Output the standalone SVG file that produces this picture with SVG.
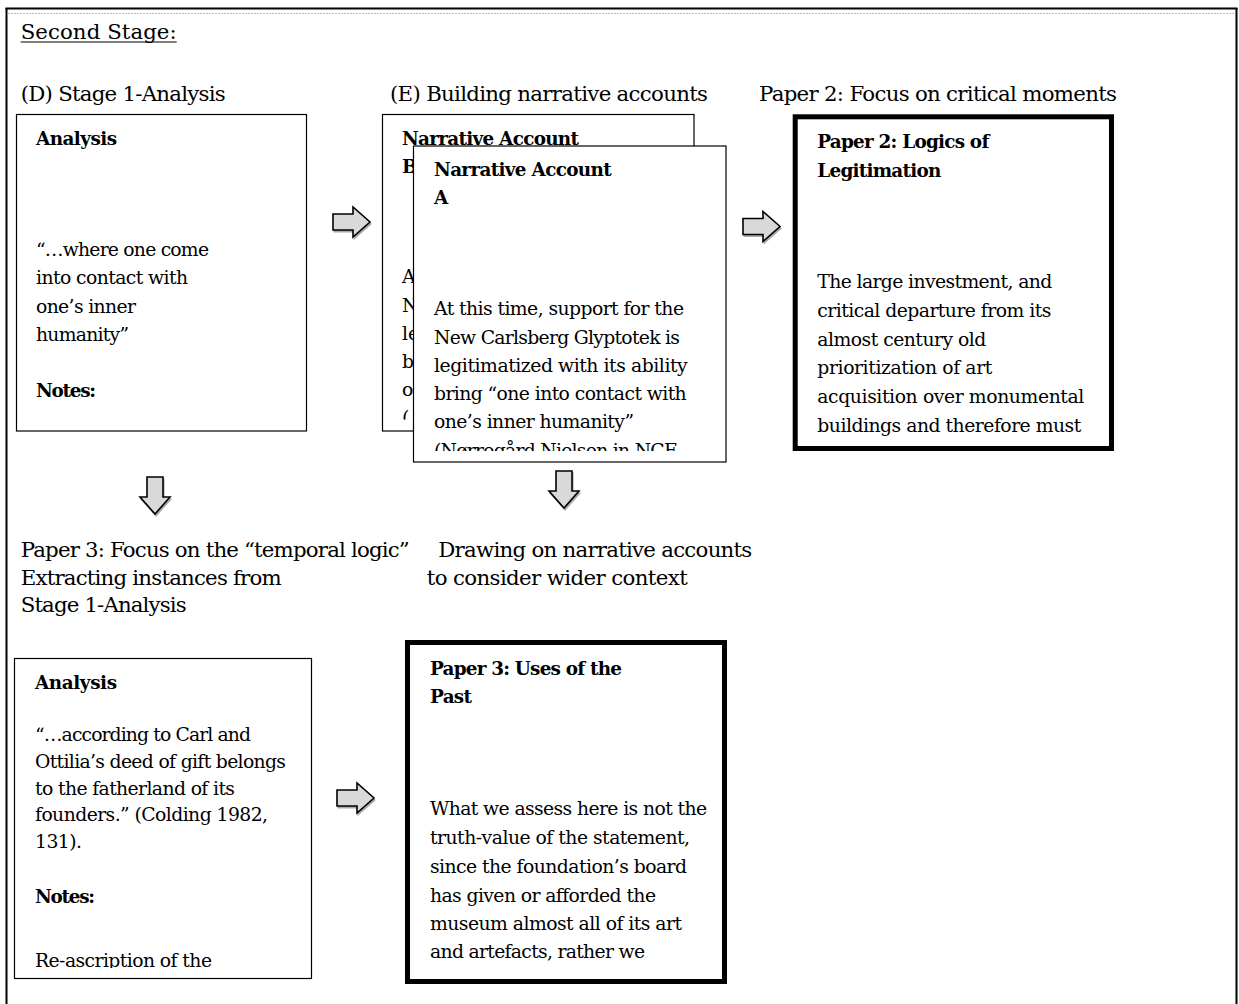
<svg xmlns="http://www.w3.org/2000/svg" xmlns:xlink="http://www.w3.org/1999/xlink" width="1239" height="1004" viewBox="0 0 1239 1004">
<style>
text{font-family:"DejaVu Serif","Liberation Serif",serif;fill:#000}
.h{font-size:21.3px}
.t{font-size:18.8px}
.bd{font-size:18.4px;font-weight:bold}
.thin{fill:#fff;stroke:#000;stroke-width:1.2}
.thick{fill:#fff;stroke:#000;stroke-width:5}
.arr{fill:#d9d9d9;stroke:#000;stroke-width:1.6;stroke-linejoin:miter}
.shd{fill:#aaa;stroke:#aaa;stroke-width:1.2}
</style>
<defs>
<path id="ra" d="M0,-8 H20 V-15 L37,0 L20,15 V8 H0 Z"/>
<clipPath id="clipB"><rect x="382" y="114" width="312" height="305.5"/></clipPath>
<clipPath id="clipA"><rect x="413" y="146" width="313" height="305"/></clipPath>
<clipPath id="clipBL"><rect x="14" y="658" width="298" height="310"/></clipPath>
</defs>
<rect x="0" y="0" width="1239" height="1004" fill="#fff"/>
<g id="frame">
<line x1="6.5" y1="8" x2="6.5" y2="1004" stroke="#000" stroke-width="2"/>
<line x1="1236.5" y1="8" x2="1236.5" y2="1004" stroke="#000" stroke-width="2"/>
<line x1="5.5" y1="8.5" x2="1237.5" y2="8.5" stroke="#000" stroke-width="2"/>
<line x1="8" y1="13.5" x2="1235" y2="13.5" stroke="#bbb" stroke-width="1" stroke-dasharray="2,1"/>
</g>
<g id="labels">
<text class="h" x="20.7" y="39" textLength="156" lengthAdjust="spacing">Second Stage:</text>
<line x1="20.7" y1="42" x2="176.7" y2="42" stroke="#000" stroke-width="1.2"/>
<text class="h" x="20.7" y="101" textLength="205" lengthAdjust="spacing">(D) Stage 1-Analysis</text>
<text class="h" x="390" y="101" textLength="318" lengthAdjust="spacing">(E) Building narrative accounts</text>
<text class="h" x="759" y="101" textLength="358" lengthAdjust="spacing">Paper 2: Focus on critical moments</text>
<text class="h" x="20.7" y="557" textLength="389" lengthAdjust="spacing">Paper 3: Focus on the “temporal logic”</text>
<text class="h" x="20.7" y="585" textLength="261" lengthAdjust="spacing">Extracting instances from</text>
<text class="h" x="20.7" y="612" textLength="166" lengthAdjust="spacing">Stage 1-Analysis</text>
<text class="h" x="438.3" y="557" textLength="314" lengthAdjust="spacing">Drawing on narrative accounts</text>
<text class="h" x="426.7" y="585" textLength="261" lengthAdjust="spacing">to consider wider context</text>
</g>
<g id="node-analysis-1">
<rect class="thin" x="16.5" y="114.5" width="290" height="316.5"/>
<text class="bd" x="36" y="145" textLength="81" lengthAdjust="spacing">Analysis</text>
<text class="t" x="36" y="255.5" textLength="173" lengthAdjust="spacing">“…where one come</text>
<text class="t" x="36" y="284" textLength="152" lengthAdjust="spacing">into contact with</text>
<text class="t" x="36" y="312.5" textLength="100" lengthAdjust="spacing">one’s inner</text>
<text class="t" x="36" y="341" textLength="93" lengthAdjust="spacing">humanity”</text>
<text class="bd" x="36" y="397" textLength="60" lengthAdjust="spacing">Notes:</text>
</g>
<g id="node-narrative-b">
<rect class="thin" x="382.5" y="114.5" width="311.5" height="316.5"/>
<text class="bd" x="402" y="145" textLength="177" lengthAdjust="spacing">Narrative Account</text>
<text class="bd" x="402" y="173">B</text>
<g clip-path="url(#clipB)">
<text class="t" x="402" y="283">A</text>
<text class="t" x="402" y="311.5">N</text>
<text class="t" x="402" y="340">le</text>
<text class="t" x="402" y="368">b</text>
<text class="t" x="402" y="396">o</text>
<text class="t" x="402" y="424">(</text>
</g>
</g>
<g id="node-narrative-a">
<rect class="thin" x="413.5" y="146" width="312.5" height="316"/>
<text class="bd" x="434" y="176" textLength="177.7" lengthAdjust="spacing">Narrative Account</text>
<text class="bd" x="434" y="204">A</text>
<g clip-path="url(#clipA)">
<text class="t" x="434" y="315" textLength="250" lengthAdjust="spacing">At this time, support for the</text>
<text class="t" x="434" y="343.5" textLength="246" lengthAdjust="spacing">New Carlsberg Glyptotek is</text>
<text class="t" x="434" y="372" textLength="253.7" lengthAdjust="spacing">legitimatized with its ability</text>
<text class="t" x="434" y="400" textLength="252.7" lengthAdjust="spacing">bring “one into contact with</text>
<text class="t" x="434" y="428" textLength="200" lengthAdjust="spacing">one’s inner humanity”</text>
<text class="t" x="434" y="456.5" textLength="243" lengthAdjust="spacing">(Nørregård Nielsen in NCF</text>
</g>
</g>
<g id="node-paper2">
<rect class="thick" x="795.2" y="116.8" width="316.3" height="331.7"/>
<text class="bd" x="817.3" y="148" textLength="172" lengthAdjust="spacing">Paper 2: Logics of</text>
<text class="bd" x="817.3" y="177" textLength="124" lengthAdjust="spacing">Legitimation</text>
<text class="t" x="817.3" y="288.3" textLength="235" lengthAdjust="spacing">The large investment, and</text>
<text class="t" x="817.3" y="317" textLength="234" lengthAdjust="spacing">critical departure from its</text>
<text class="t" x="817.3" y="345.7" textLength="169" lengthAdjust="spacing">almost century old</text>
<text class="t" x="817.3" y="374.4" textLength="175" lengthAdjust="spacing">prioritization of art</text>
<text class="t" x="817.3" y="403" textLength="267" lengthAdjust="spacing">acquisition over monumental</text>
<text class="t" x="817.3" y="431.7" textLength="264" lengthAdjust="spacing">buildings and therefore must</text>
</g>
<g id="node-analysis-2">
<rect class="thin" x="14.5" y="658.5" width="297" height="320"/>
<text class="bd" x="35" y="689" textLength="82" lengthAdjust="spacing">Analysis</text>
<text class="t" x="35" y="741" textLength="216" lengthAdjust="spacing">“…according to Carl and</text>
<text class="t" x="35" y="768" textLength="251" lengthAdjust="spacing">Ottilia’s deed of gift belongs</text>
<text class="t" x="35" y="794.5" textLength="200" lengthAdjust="spacing">to the fatherland of its</text>
<text class="t" x="35" y="821" textLength="233" lengthAdjust="spacing">founders.” (Colding 1982,</text>
<text class="t" x="35" y="847.5" textLength="47" lengthAdjust="spacing">131).</text>
<text class="bd" x="35" y="903" textLength="60" lengthAdjust="spacing">Notes:</text>
<g clip-path="url(#clipBL)">
<text class="t" x="35" y="967" textLength="177" lengthAdjust="spacing">Re-ascription of the</text>
</g>
</g>
<g id="node-paper3">
<rect class="thick" x="407.5" y="642.5" width="317" height="339"/>
<text class="bd" x="430" y="675" textLength="192" lengthAdjust="spacing">Paper 3: Uses of the</text>
<text class="bd" x="430" y="703.3" textLength="42" lengthAdjust="spacing">Past</text>
<text class="t" x="430" y="815" textLength="277" lengthAdjust="spacing">What we assess here is not the</text>
<text class="t" x="430" y="844" textLength="260" lengthAdjust="spacing">truth-value of the statement,</text>
<text class="t" x="430" y="872.7" textLength="257" lengthAdjust="spacing">since the foundation’s board</text>
<text class="t" x="430" y="901.7" textLength="226" lengthAdjust="spacing">has given or afforded the</text>
<text class="t" x="430" y="930" textLength="252" lengthAdjust="spacing">museum almost all of its art</text>
<text class="t" x="430" y="958.3" textLength="215" lengthAdjust="spacing">and artefacts, rather we</text>
</g>
<g id="connectors">
<use xlink:href="#ra" class="shd" transform="translate(334,224)"/>
<use xlink:href="#ra" class="arr" transform="translate(333,222)"/>
<use xlink:href="#ra" class="shd" transform="translate(744,228.5)"/>
<use xlink:href="#ra" class="arr" transform="translate(743,226.5)"/>
<use xlink:href="#ra" class="shd" transform="translate(338,800)"/>
<use xlink:href="#ra" class="arr" transform="translate(337,798)"/>
<use xlink:href="#ra" class="shd" transform="translate(156,479) rotate(90)"/>
<use xlink:href="#ra" class="arr" transform="translate(155,477) rotate(90)"/>
<use xlink:href="#ra" class="shd" transform="translate(565,473) rotate(90)"/>
<use xlink:href="#ra" class="arr" transform="translate(564,471) rotate(90)"/>
</g>
</svg>
